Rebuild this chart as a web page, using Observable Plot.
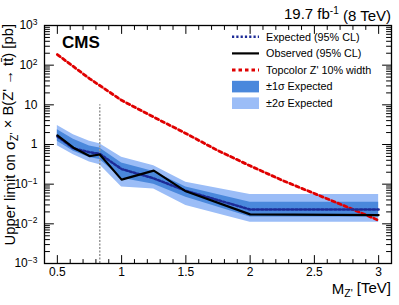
<!DOCTYPE html>
<html><head><meta charset="utf-8">
<script src="https://cdn.jsdelivr.net/npm/d3@7"></script>
<script src="https://cdn.jsdelivr.net/npm/@observablehq/plot@0.6"></script>
<style>
body{margin:0;background:#fff}
#chart{width:399px;height:305px;position:relative}
svg{font-family:"Liberation Sans",Arial,sans-serif}
</style>
</head><body><div id="chart"></div>
<script>
// Z' mass points (TeV) for the limits
const mass     = [0.5, 0.625, 0.75, 0.83, 1.0, 1.25, 1.5, 2.0, 3.0];
const observed = [1.7, 0.83, 0.51, 0.56, 0.13, 0.22, 0.066, 0.0173, 0.0166];
const expected = [1.6, 0.80, 0.64, 0.58, 0.24, 0.14, 0.068, 0.023, 0.023];
const minus1   = [1.2, 0.68, 0.47, 0.42, 0.14, 0.10, 0.047, 0.0148, 0.0148];
const plus1    = [2.35, 1.35, 0.92, 0.82, 0.34, 0.21, 0.085, 0.035, 0.035];
const minus2   = [0.93, 0.55, 0.36, 0.31, 0.085, 0.075, 0.029, 0.011, 0.011];
const plus2    = [3.0, 1.75, 1.2, 1.05, 0.48, 0.29, 0.112, 0.055, 0.055];
// Topcolor Z' 10% width theory curve
const zpMass  = [0.5, 0.75, 1.0, 1.25, 1.5, 1.75, 2.0, 2.25, 2.5, 2.75, 3.0];
const zpXsec  = [185, 46, 13, 4.9, 1.9, 0.7, 0.29, 0.125, 0.058, 0.027, 0.0122];
// analysis boundary
const boundaryMass = [0.83];
const boundaryTop = 10;
// ticks
const xTicks = [0.5, 1, 1.5, 2, 2.5, 3];
const xMinor = [0.6,0.7,0.8,0.9,1.1,1.2,1.3,1.4,1.6,1.7,1.8,1.9,2.1,2.2,2.3,2.4,2.6,2.7,2.8,2.9];
const yTicks = [1e-3, 1e-2, 1e-1, 1, 10, 100, 1000];
const yTickLabels = ["10^-3", "10^-2", "10^-1", "1", "10", "10^2", "10^3"];
const yMinor = [];
for (let k = -3; k < 3; k++) for (let m = 2; m <= 9; m++) yMinor.push(m * Math.pow(10, k));

const limits = mass.map((m, i) => ({m, obs: observed[i], exp: expected[i], lo1: minus1[i], hi1: plus1[i], lo2: minus2[i], hi2: plus2[i]}));
const theory = zpMass.map((m, i) => ({m, xs: zpXsec[i]}));

const cLight = "#9bbdf7", cDark = "#4a88dc", cExp = "#1c2a96", cRed = "#e00000";
const tickShape = {draw(ctx, l) { ctx.moveTo(0, 0); ctx.lineTo(0, -l); }};
const vt = (data, ch, frameAnchor, rotate, length) =>
  Plot.vector(data, {[ch]: d => d, frameAnchor, rotate, length, anchor: "start", shape: tickShape, stroke: "black", strokeWidth: 1});

const svg = Plot.plot({
  width: 399, height: 305,
  marginTop: 25, marginRight: 8, marginBottom: 42, marginLeft: 44,
  style: {background: "white", color: "black", fontSize: "12px", fontFamily: "'Liberation Sans', Arial, sans-serif"},
  x: {type: "linear", domain: [0.4, 3.1]},
  y: {type: "log", domain: [1e-3, 1e3]},
  marks: [
    Plot.areaY(limits, {x: "m", y1: "lo2", y2: "hi2", fill: cLight}),
    Plot.areaY(limits, {x: "m", y1: "lo1", y2: "hi1", fill: cDark}),
    Plot.ruleX(boundaryMass, {x: d => d, y1: 1e-3, y2: boundaryTop, stroke: "#999", strokeWidth: 1.5, strokeDasharray: "2,1.5"}),
    Plot.line(theory, {x: "m", y: "xs", stroke: cRed, strokeWidth: 2.8, strokeDasharray: "3.5,3"}),
    Plot.line(limits, {x: "m", y: "exp", stroke: cExp, strokeWidth: 2.5, strokeDasharray: "2.2,2.1"}),
    Plot.line(limits, {x: "m", y: "obs", stroke: "black", strokeWidth: 2.2}),
    Plot.frame({stroke: "black", strokeWidth: 1.3}),
    vt(xTicks, "x", "bottom", 0, 8), vt(xMinor, "x", "bottom", 0, 4),
    vt(xTicks, "x", "top", 180, 8), vt(xMinor, "x", "top", 180, 4),
    vt(yTicks, "y", "left", 90, 9), vt(yMinor, "y", "left", 90, 5),
    vt(yTicks, "y", "right", -90, 9), vt(yMinor, "y", "right", -90, 5),
    Plot.axisX(xTicks, {anchor: "bottom", tickSize: 0, tickPadding: 4, tickFormat: d => String(d), label: null}),
    Plot.axisY(yTicks, {anchor: "left", tickSize: 0, tickPadding: 7, tickFormat: (d, i) => yTickLabels[yTicks.indexOf(d)], label: null})
  ]
});
document.getElementById("chart").appendChild(svg);

const s = d3.select(svg);
// superscripts on y tick labels
s.selectAll('[aria-label="y-axis tick label"] text').each(function() {
  const t = this.textContent;
  if (t.includes("^")) {
    const [b, e] = t.split("^");
    const el = d3.select(this); el.text("");
    el.append("tspan").text(b);
    el.append("tspan").attr("dy", "-0.5em").attr("font-size", "8.5px").text(e.replace("-", "\u2212"));
  }
});
const ff = "'Liberation Sans', Arial, sans-serif";
// top-right luminosity title
const title = s.append("text").attr("x", 391).attr("y", 18.5).attr("text-anchor", "end").attr("font-size", "15px").attr("font-family", ff);
title.append("tspan").text("19.7 fb");
title.append("tspan").attr("dy", "-0.5em").attr("font-size", "10px").text("-1");
title.append("tspan").attr("dy", "0.5em").text(" (8 TeV)");
// CMS
s.append("text").attr("x", 62).attr("y", 48).attr("text-anchor", "start").attr("font-size", "17px").attr("font-weight", "bold").attr("font-family", ff).text("CMS");
// y label
const yl = s.append("text").attr("transform", "translate(14.5,24) rotate(-90)").attr("text-anchor", "end").attr("font-size", "14.8px").attr("font-family", ff);
yl.append("tspan").text("Upper limit on \u03c3");
yl.append("tspan").attr("dy", "0.3em").attr("font-size", "10.5px").text("Z'");
yl.append("tspan").attr("dy", "-0.3em").text(" \u00d7 B(Z' \u2192 tt\u0304) [pb]");
// x label
const xl = s.append("text").attr("x", 391).attr("y", 294).attr("text-anchor", "end").attr("font-size", "15px").attr("font-family", ff);
xl.append("tspan").text("M");
xl.append("tspan").attr("dy", "0.3em").attr("font-size", "10.5px").text("Z'");
xl.append("tspan").attr("dy", "-0.3em").text(" [TeV]");

// legend
const lg = s.append("g").attr("font-family", ff).attr("font-size", "10.8px").attr("text-anchor", "start");
const rows = [
  {type: "line", stroke: cExp, w: 2.5, dash: "2.2,2.1", label: "Expected (95% CL)"},
  {type: "line", stroke: "black", w: 2.2, dash: null, label: "Observed (95% CL)"},
  {type: "line", stroke: cRed, w: 2.8, dash: "3.5,3", label: "Topcolor Z' 10% width"},
  {type: "box", fill: cDark, label: "\u00b11\u03c3 Expected"},
  {type: "box", fill: cLight, label: "\u00b12\u03c3 Expected"}
];
rows.forEach((r, i) => {
  const y = 36.8 + i * 16.6;
  if (r.type === "line") {
    lg.append("line").attr("x1", 232).attr("x2", 259).attr("y1", y).attr("y2", y)
      .attr("stroke", r.stroke).attr("stroke-width", r.w).attr("stroke-dasharray", r.dash);
  } else {
    lg.append("rect").attr("x", 232).attr("y", y - 5.8).attr("width", 27).attr("height", 11.6).attr("fill", r.fill);
  }
  lg.append("text").attr("x", 266).attr("y", y).attr("dy", "0.36em").attr("text-anchor", "start").text(r.label);
});
</script>
</body></html>
